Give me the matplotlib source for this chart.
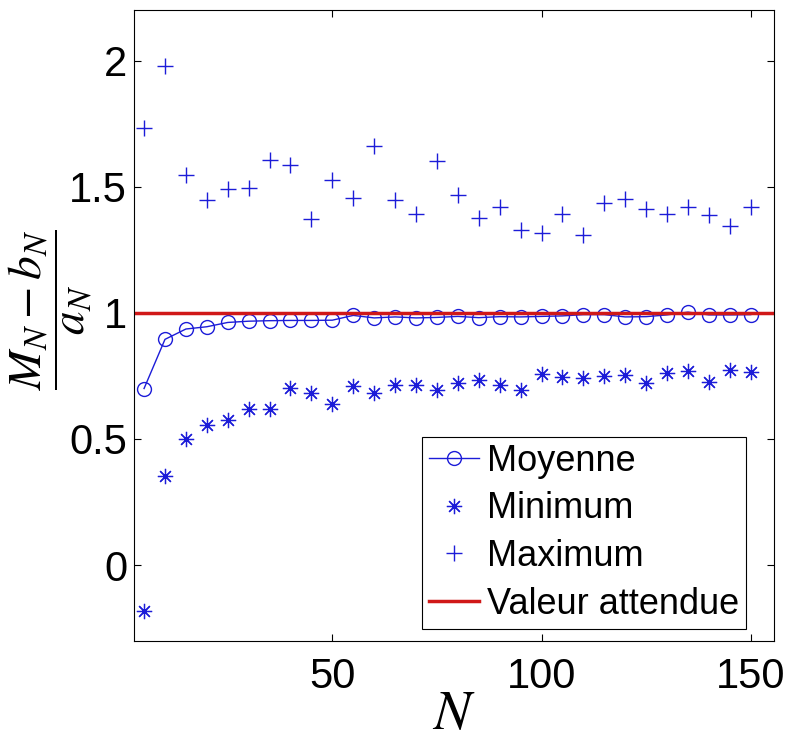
import matplotlib
matplotlib.use("Agg")
import matplotlib.pyplot as plt

# sample sizes
N = [5, 10, 15, 20, 25, 30, 35, 40, 45, 50,
     55, 60, 65, 70, 75, 80, 85, 90, 95, 100,
     105, 110, 115, 120, 125, 130, 135, 140, 145, 150]

# values
moyenne = [0.700, 0.895, 0.936, 0.945, 0.962, 0.967, 0.969, 0.970, 0.970, 0.971,
           0.990, 0.980, 0.984, 0.980, 0.982, 0.986, 0.981, 0.985, 0.984, 0.986,
           0.988, 0.993, 0.993, 0.984, 0.985, 0.992, 1.003, 0.992, 0.992, 0.993]
minimum = [-0.183, 0.352, 0.499, 0.554, 0.574, 0.617, 0.617, 0.702, 0.683, 0.640,
           0.709, 0.684, 0.715, 0.713, 0.696, 0.720, 0.733, 0.713, 0.693, 0.757,
           0.744, 0.740, 0.750, 0.753, 0.722, 0.760, 0.769, 0.726, 0.775, 0.766]
maximum = [1.732, 1.980, 1.546, 1.446, 1.490, 1.496, 1.606, 1.585, 1.373, 1.527,
           1.456, 1.661, 1.446, 1.394, 1.601, 1.467, 1.375, 1.418, 1.328, 1.315,
           1.394, 1.307, 1.434, 1.451, 1.410, 1.394, 1.418, 1.390, 1.345, 1.421]
valeur_attendue = 1.0

labels = ['Moyenne', 'Minimum', 'Maximum', 'Valeur attendue']

plt.rcParams['font.family'] = ['Liberation Sans', 'DejaVu Sans']
plt.rcParams['mathtext.fontset'] = 'stix'

blue = '#1c1cd8'
red = '#d01818'

fig = plt.figure(figsize=(7.93, 7.46), dpi=100)
ax = fig.add_axes([0.169, 0.1412, 0.8067, 0.845])

ax.plot(N, moyenne, '-o', color=blue, linewidth=1, markersize=10,
        markerfacecolor='none', markeredgewidth=1, label=labels[0])
ax.plot(N, minimum, linestyle='none', marker=(8, 2, 0), color=blue,
        markersize=11, markeredgewidth=0.9, label=labels[1])
ax.plot(N, maximum, linestyle='none', marker='+', color=blue,
        markersize=12, markeredgewidth=1, label=labels[2])
ax.axhline(valeur_attendue, color=red, linewidth=2.5, label=labels[3])

ax.set_xlim(2.6, 155.5)
ax.set_ylim(-0.3, 2.2)
ax.set_xticks([50, 100, 150])
ax.set_yticks([0, 0.5, 1, 1.5, 2])
ax.set_yticklabels(['0', '0.5', '1', '1.5', '2'])

ax.tick_params(direction='in', length=5, width=0.8, top=True, right=True,
               labelsize=30)
ax.tick_params(axis='x', pad=12)
ax.tick_params(axis='y', pad=5)
for s in ax.spines.values():
    s.set_linewidth(0.8)

ax.set_xlabel(r'$N$', fontsize=40)
ax.xaxis.set_label_coords(0.5, -0.076)
ax.set_ylabel(r'$\dfrac{M_N - b_N}{a_N}$', fontsize=34)
ax.yaxis.set_label_coords(-0.062, 0.525)

leg = ax.legend(loc='lower right', bbox_to_anchor=(0.9567, 0.0186), fontsize=26,
                frameon=True, fancybox=False, framealpha=1, edgecolor='k',
                handlelength=1.4, handletextpad=0.2, labelspacing=0.35,
                borderpad=0.2, borderaxespad=0)
leg.get_frame().set_linewidth(0.8)

fig.savefig('out.png', dpi=100)
